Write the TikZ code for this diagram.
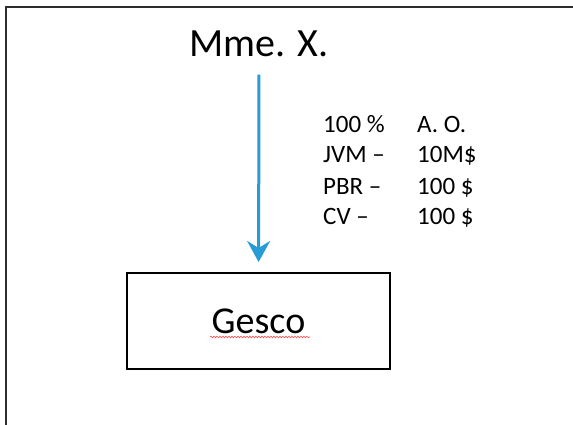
\documentclass[tikz,border=0pt]{standalone}
\usepackage{fontspec}
\setmainfont{Carlito}
\usetikzlibrary{arrows.meta,decorations.pathmorphing}
\definecolor{arrowblue}{RGB}{40,156,212}
\definecolor{framegray}{RGB}{45,45,45}
\begin{document}
\begin{tikzpicture}[x=1pt,y=-1pt,
  bigtext/.style={font=\fontsize{40}{48}\selectfont, inner sep=0pt},
  boxtext/.style={font=\fontsize{38}{46}\selectfont, draw=black, line width=2pt,
     minimum width=263pt, minimum height=96pt, inner sep=0pt},
  tabtext/.style={font=\fontsize{25}{30}\selectfont, inner sep=0pt, anchor=base west},
  flow/.style={draw=arrowblue, line width=3pt, -{Stealth[length=21pt,width=23pt,inset=7pt]}}]
\useasboundingbox (0,0) rectangle (573,425);
\fill[white] (0,0) rectangle (573,425);
\draw[framegray, line width=2pt] (573,7) -- (6,7) -- (6,425);
\node[bigtext, anchor=base] (mme) at (259,57) {Mme. X.};
\node[boxtext] (gesco) at (258.5,321) {Gesco};
\draw[flow, shorten <=17pt, shorten >=10pt] (mme) -- (gesco);
\draw[red!70, line width=0.6pt, decorate, decoration={snake, amplitude=0.8pt, segment length=3pt}]
  (210,337) -- (310,337);
\node[tabtext] (r1a) at (323,133) {100 \%};
\node[tabtext] (r1b) at (417,133) {A. O.};
\node[tabtext] (r2a) at (323,163) {JVM –};
\node[tabtext] (r2b) at (417,163) {10M\$};
\node[tabtext] (r3a) at (323,194) {PBR –};
\node[tabtext] (r3b) at (417,194) {100 \$};
\node[tabtext] (r4a) at (323,224) {CV –};
\node[tabtext] (r4b) at (417,224) {100 \$};
\end{tikzpicture}
\end{document}
